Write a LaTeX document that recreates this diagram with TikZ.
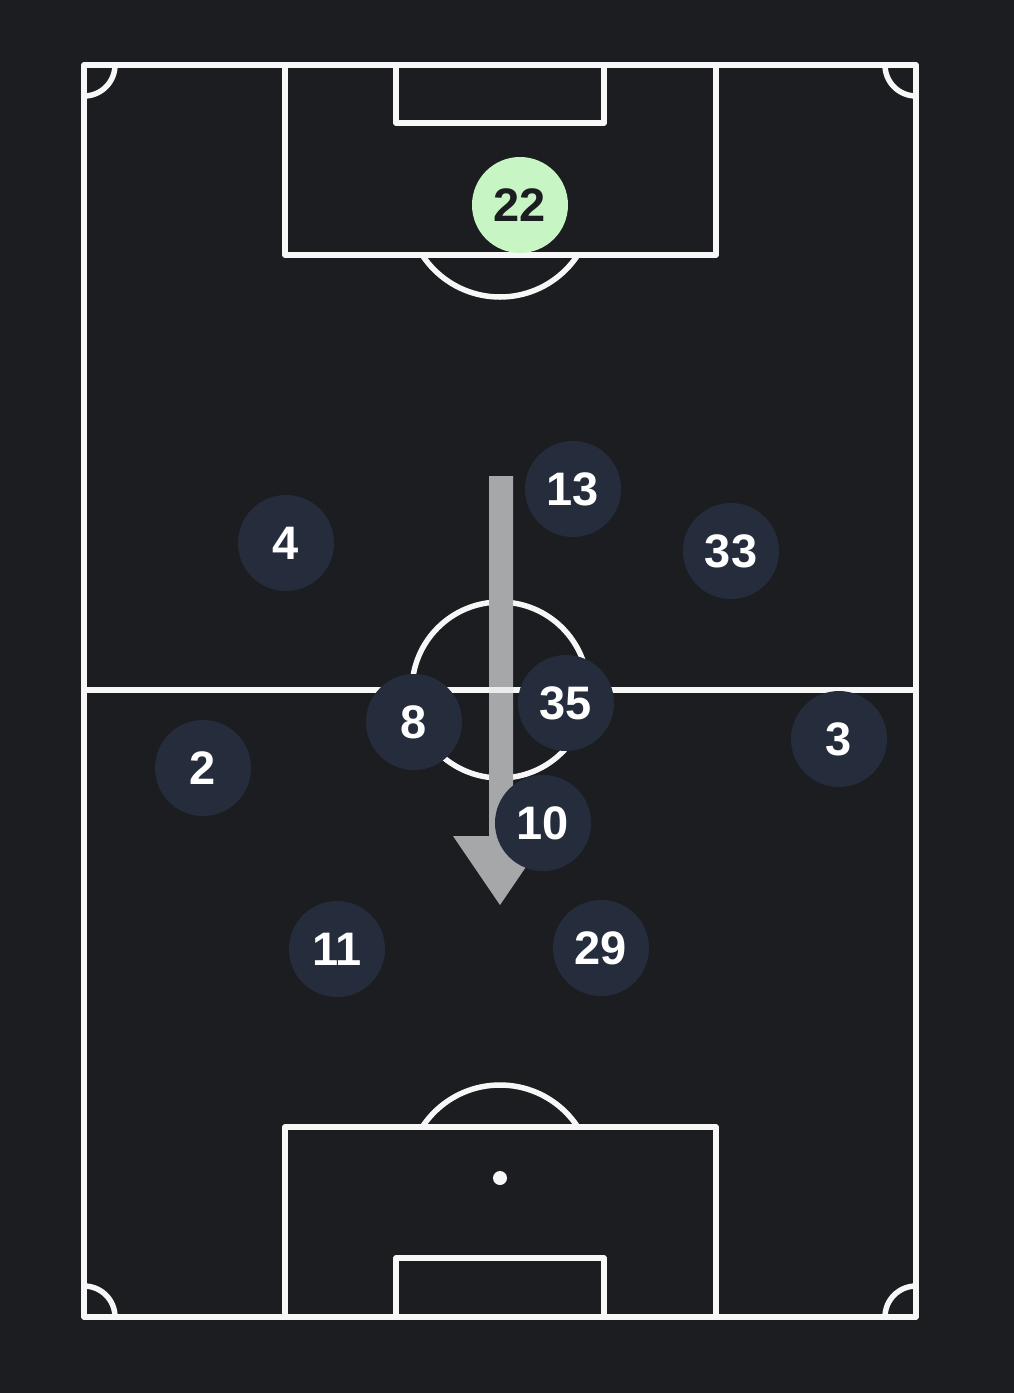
\documentclass[tikz,border=0pt]{standalone}
\usepackage{fontspec}
\setmainfont{Liberation Sans}
\definecolor{bgc}{HTML}{1B1D20}
\definecolor{linec}{HTML}{F7F7F7}
\definecolor{playerc}{HTML}{252D3C}
\definecolor{keeperc}{HTML}{C8F5C4}
\definecolor{arrowc}{HTML}{A6A7A9}
\tikzset{
  pitchline/.style={draw=linec, line width=5.5pt, line join=round, line cap=round},
  player/.style={circle, fill=playerc, minimum size=96pt, inner sep=0pt, text=white, font=\fontsize{47}{47}\selectfont\bfseries},
  keeper/.style={player, fill=keeperc, text=bgc},
}
\begin{document}
\begin{tikzpicture}[x=1pt, y=-1pt]
\fill[bgc] (0,0) rectangle (1014,1393);
\useasboundingbox (0,0) rectangle (1014,1393);
% pitch
\draw[pitchline] (84,65) rectangle (916,1317);
\draw[pitchline] (84,690) -- (916,690);
\draw[pitchline] (500,690) circle (88);
% top boxes
\draw[pitchline] (285,65) rectangle (716,255);
\draw[pitchline] (396,65) rectangle (604,123);
\begin{scope}
\clip (0,257) rectangle (1014,400);
\draw[pitchline] (500,204) circle (93);
\end{scope}
% bottom boxes
\draw[pitchline] (285,1127) rectangle (716,1317);
\draw[pitchline] (396,1258) rectangle (604,1317);
\begin{scope}
\clip (0,900) rectangle (1014,1125);
\draw[pitchline] (500,1178) circle (93);
\end{scope}
\fill[linec] (500,1178) circle (7);
% corner arcs
\begin{scope}
\clip (84,65) rectangle (916,1317);
\draw[pitchline] (84,65) circle (31);
\draw[pitchline] (916,65) circle (31);
\draw[pitchline] (84,1317) circle (31);
\draw[pitchline] (916,1317) circle (31);
\end{scope}
% arrow
\coordinate (as) at (501,476);
\coordinate (at) at (500,905);
\fill[arrowc] (489,476) -- (513,476) -- (513,836) -- (547,836) -- (at) -- (453,836) -- (489,836) -- cycle;
\draw[draw=linec, line width=5.5pt, opacity=0.85] (489,690) -- (513,690);
% players
\node[keeper] (p22) at (520,205) {22};
\node[player] (p13) at (573,489) {13};
\node[player] (p4) at (286,543) {4};
\node[player] (p33) at (731,551) {33};
\node[player] (p8) at (414,722) {8};
\node[player] (p35) at (566,703) {35};
\node[player] (p3) at (839,739) {3};
\node[player] (p2) at (203,768) {2};
\node[player] (p10) at (543,823) {10};
\node[player] (p11) at (337,949) {11};
\node[player] (p29) at (601,948) {29};
\end{tikzpicture}
\end{document}
